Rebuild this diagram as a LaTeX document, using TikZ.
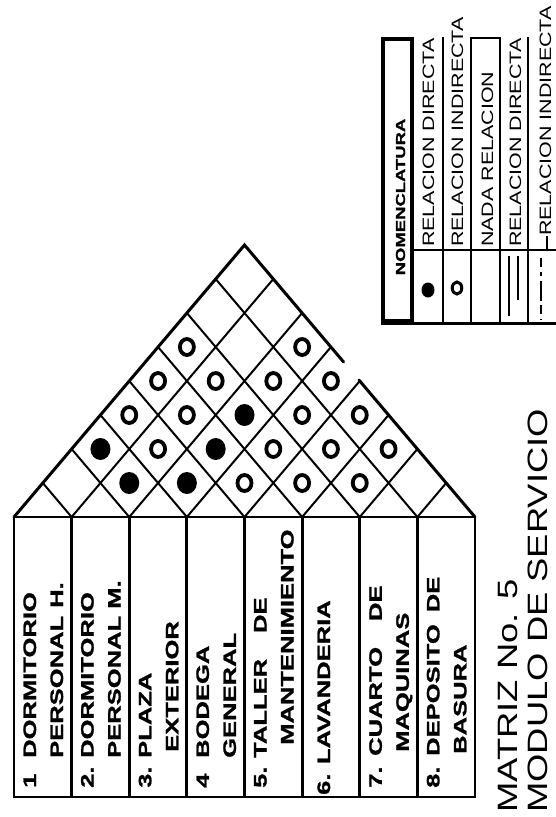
\documentclass[tikz,border=0pt]{standalone}
\usepackage{fontspec}
\setmainfont{Liberation Sans}
\newfontfamily\lblfont[FakeStretch=1.42,FakeBold=1.3]{Liberation Sans Bold}
\newfontfamily\ttlfont[FakeStretch=1.3]{Liberation Sans}
\newcommand\relF[2]{\fill ({14+57.625*(#1+#2-1)/2},{517-34*(#2-#1)}) ellipse [x radius=10pt, y radius=11pt];}
\newcommand\relO[2]{\draw[line width=3.8pt] ({14+57.625*(#1+#2-1)/2},{517-34*(#2-#1)}) ellipse [x radius=7pt, y radius=8pt];}
\begin{document}
\begin{tikzpicture}[x=1pt,y=-1pt,
  gridline/.style={line width=2pt},
  edge/.style={line width=3pt, line cap=round},
  stripline/.style={line width=2.8pt},
  lbl/.style={rotate=90, anchor=base west, inner sep=0pt, font=\lblfont\fontsize{18pt}{18pt}\selectfont},
  leg/.style={rotate=90, anchor=base west, inner sep=0pt, font=\ttlfont\fontsize{16.5pt}{16.5pt}\selectfont},
  ttl/.style={rotate=90, anchor=base west, inner sep=0pt, font=\ttlfont\fontsize{28pt}{28pt}\selectfont},
  legline/.style={line width=1.8pt}]
\useasboundingbox (0,0) rectangle (556,817);

% ---------- triangular relationship grid ----------
\foreach \k in {1,...,7} {
  \pgfmathsetmacro\xk{14+57.625*\k}
  \draw[gridline] (\xk,517) -- ++({(8-\k)*28.8125},{-(8-\k)*34});
  \draw[gridline] (\xk,517) -- ++({-\k*28.8125},{-\k*34});
}
% outer edges (right edge shows a small break)
\draw[edge] (14,517) -- (244.5,245) -- (343.6,362);
\draw[edge] (358.9,380) -- (475,517);
\draw[gridline] (14,517) -- (475,517);

% ---------- strips ----------
\draw[stripline] (14,517) -- (14,797) -- (475,797) -- (475,517);
\foreach \k in {1,...,7} {
  \pgfmathsetmacro\xk{14+57.625*\k}
  \draw[stripline] (\xk,517) -- (\xk,797);
}

% ---------- relationship marks ----------
\relF{2}{3} \relF{3}{4} \relF{1}{3} \relF{3}{5} \relF{3}{6}
\relO{4}{5} \relO{5}{6} \relO{6}{7}
\relO{2}{4} \relO{4}{6} \relO{5}{7} \relO{6}{8}
\relO{1}{4} \relO{2}{5} \relO{4}{7} \relO{5}{8}
\relO{1}{5} \relO{2}{6} \relO{3}{7} \relO{4}{8}
\relO{1}{6} \relO{3}{8}

% ---------- strip labels ----------
\node[lbl] (s1a) at (36,788) {\makebox[30pt][l]{1}DORMITORIO};
\node[lbl] (s1b) at (63,758) {PERSONAL\hspace{8pt}H.};
\node[lbl] (s2a) at (93.6,788) {\makebox[30pt][l]{2.}DORMITORIO};
\node[lbl] (s2b) at (120.6,758) {PERSONAL M.};
\node[lbl] (s3a) at (151.3,788) {\makebox[30pt][l]{3.}PLAZA};
\node[lbl] (s3b) at (178.3,752) {EXTERIOR};
\node[lbl] (s4a) at (208.9,788) {\makebox[30pt][l]{4}BODEGA};
\node[lbl] (s4b) at (235.9,758) {GENERAL};
\node[lbl] (s5a) at (266.5,788) {\makebox[30pt][l]{5.}TALLER\hspace{26pt}DE};
\node[lbl] (s5b) at (293.5,745) {MANTENIMIENTO};
\node[lbl] (s6a) at (330,795) {6. LAVANDERIA};
\node[lbl] (s7a) at (381.8,788) {\makebox[32pt][l]{7.}CUARTO\hspace{26pt}DE};
\node[lbl] (s7b) at (408.8,752) {MAQUINAS};
\node[lbl] (s8a) at (439.4,788) {\makebox[32pt][l]{8.}DEPOSITO\hspace{12pt}DE};
\node[lbl] (s8b) at (466.4,754) {BASURA};

% ---------- title ----------
\node[ttl] (t1) at (517,813) {MATRIZ No. 5};
\node[ttl] (t2) at (547,813) {MODULO DE SERVICIO};

% ---------- legend ----------
\draw[line width=4.5pt] (383,39) rectangle (412,321);
\draw[line width=3pt] (381,323) -- (556,323);
\foreach \xx in {443,471,500,528} { \draw[legline] (\xx,37) -- (\xx,323); }
\draw[legline] (413,250) -- (556,250);
\draw[legline] (471,38) -- (500,38);
\node[rotate=90, anchor=base, inner sep=0pt, font=\lblfont\fontsize{13pt}{13pt}\selectfont] (lh) at (405,197) {NOMENCLATURA};
\node[leg] (l1) at (434,247) {RELACION DIRECTA};
\node[leg] (l2) at (463,247) {RELACION INDIRECTA};
\node[leg] (l3) at (493,247) {NADA RELACION};
\node[leg] (l4) at (521,247) {RELACION DIRECTA};
\node[leg] (l5) at (551,236) {RELACION INDIRECTA};
\draw[line width=1.2pt] (547,236) -- (547,249);
\fill (428,290) ellipse [x radius=6.5pt, y radius=7.5pt];
\draw[line width=3pt] (457,288) ellipse [x radius=4.8pt, y radius=6pt];
\draw[line width=2.6pt] (509,256) -- (509,316);
\draw[line width=2pt] (518,256) -- (518,300);
\draw[line width=2.8pt, dash pattern=on 9pt off 5pt on 4pt off 5pt on 20pt off 4pt] (541,258) -- (541,320);
\end{tikzpicture}
\end{document}
